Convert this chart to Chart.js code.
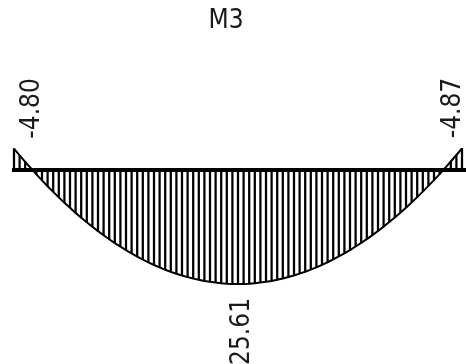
<!DOCTYPE html>
<html>
<head>
<meta charset="utf-8">
<script src="https://cdn.jsdelivr.net/npm/chart.js@4"></script>
<style>
body { margin: 0; background: #fff; }
#wrap { width: 466px; height: 364px; position: relative; }
</style>
</head>
<body>
<div id="wrap"><canvas id="grafica"></canvas></div>
<script>
const titulo = "M3";
// momento por estacion (81 estaciones a lo largo de la viga)
const momentos = [
  -4.80, -3.30, -1.83, -0.41, 0.98, 2.33, 3.64, 4.92, 6.16, 7.35,
  8.51, 9.64, 10.72, 11.76, 12.77, 13.74, 14.67, 15.57, 16.42, 17.24,
  18.02, 18.76, 19.46, 20.13, 20.76, 21.35, 21.90, 22.41, 22.89, 23.32,
  23.72, 24.08, 24.40, 24.69, 24.94, 25.14, 25.31, 25.45, 25.54, 25.60,
  25.61, 25.60, 25.54, 25.44, 25.30, 25.13, 24.93, 24.68, 24.39, 24.06,
  23.70, 23.30, 22.87, 22.39, 21.88, 21.32, 20.73, 20.10, 19.43, 18.73,
  17.99, 17.20, 16.38, 15.53, 14.63, 13.70, 12.72, 11.71, 10.67, 9.59,
  8.46, 7.30, 6.10, 4.86, 3.58, 2.27, 0.92, -0.48, -1.90, -3.37,
  -4.87
];
const estacionesConEtiqueta = [0, 40, 80]; // extremos y maximo

document.addEventListener("DOMContentLoaded", function(event) {
    GraficoMomento();
});

//----------------------------------------------------------------------------
function GraficoMomento(){
const ctx = document.getElementById('grafica');
const puntos = momentos.map((m, i) => ({ x: i, y: m }));
const fuente = "26px 'DejaVu Sans Condensed', 'DejaVu Sans', sans-serif";

const plugin = {
    id: 'diagrama_momento',
    beforeDraw: (chart) => {
      const c = chart.ctx;
      c.save();
      c.fillStyle = 'white';
      c.fillRect(0, 0, chart.width, chart.height);
      c.restore();
    },
    afterDatasetsDraw: (chart) => {
      // eje de la viga
      const c = chart.ctx;
      const y0 = chart.scales.y.getPixelForValue(0);
      c.save();
      c.strokeStyle = '#000';
      c.lineWidth = 4;
      c.beginPath();
      c.moveTo(chart.chartArea.left, y0);
      c.lineTo(chart.chartArea.right, y0);
      c.stroke();
      c.restore();
    },
    afterDraw: (chart) => {
      const c = chart.ctx;
      const xs = chart.scales.x, ys = chart.scales.y;
      const centro = (chart.chartArea.left + chart.chartArea.right) / 2;
      c.save();
      c.fillStyle = '#1a1a1a';
      c.font = fuente;
      estacionesConEtiqueta.forEach(i => {
        const v = momentos[i];
        const px = xs.getPixelForValue(i);
        const py = ys.getPixelForValue(v);
        c.save();
        c.textBaseline = 'middle';
        if (v < 0) {
          c.translate(px + (px < centro ? 18 : -9), py - 10);
          c.rotate(-Math.PI / 2);
          c.textAlign = 'left';
        } else {
          c.translate(px + 4, py + 14);
          c.rotate(-Math.PI / 2);
          c.textAlign = 'right';
        }
        c.fillText(v.toFixed(2), 0, 0);
        c.restore();
      });
      c.textAlign = 'center';
      c.textBaseline = 'middle';
      c.fillText(titulo, 226, 21);
      c.restore();
    }
};

new Chart(ctx, {
    type: 'bar',
    data: {
        datasets: [
            {
                type: 'line',
                data: puntos,
                borderColor: '#000',
                borderWidth: 2,
                pointRadius: 0,
                tension: 0,
                fill: false,
            },
            {
                type: 'bar',
                data: puntos,
                backgroundColor: '#000',
                barThickness: 1.6,
                borderWidth: 0,
            }
        ]
    },
    options: {
        responsive: true,
        maintainAspectRatio: false,
        animation: false,
        layout: { padding: { left: 12, right: 0, top: 0, bottom: 0 } },
        plugins: { legend: { display: false }, tooltip: { enabled: false }, title: { display: false } },
        scales: {
            x: { type: 'linear', display: false, offset: false, min: -0.357, max: 80.714 },
            y: { display: false, reverse: true, min: -38.2, max: 43.6 }
        }
    },
    plugins: [plugin],
});
};
//----------------------------------------------------------------------------
</script>
</body>
</html>
